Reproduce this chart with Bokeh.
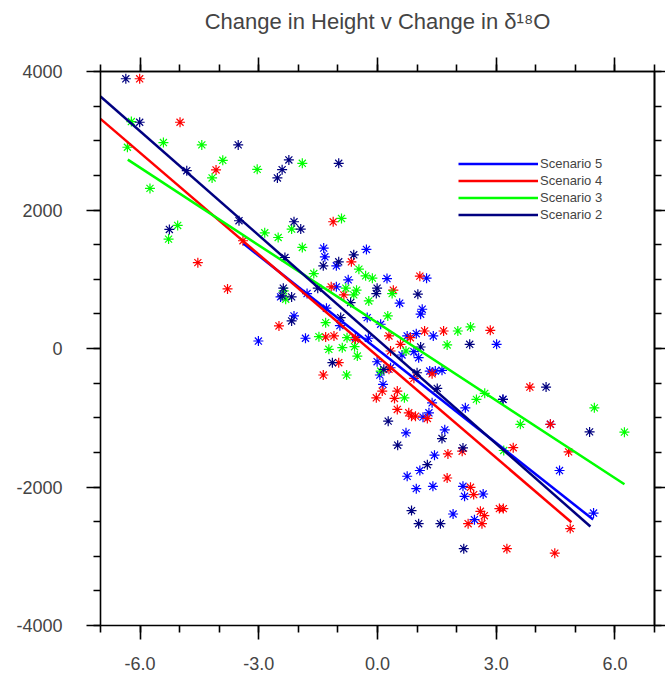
from bokeh.plotting import figure
from bokeh.models import (FixedTicker, NumeralTickFormatter, LinearAxis, Legend,
                          LegendItem, Range1d)
from bokeh.embed import file_html
from bokeh.resources import INLINE

# ---------------- data ----------------
s5_x = [-1.36, -1.33, -1.04, -0.74, 0.24, 1.24, -1.04, 0.56, 1.13, 1.09, -2.45, -1.78,
        -1.29, -2.11, -1.82, -3.01, -0.56, -0.23, -0.26, 0.08, 0.75, 0.98, 1.41, 0.92,
        1.04, 0.62, -0.01, 0.33, 1.32, 1.46, 1.63, 0.06, 0.14, 1.30, 3.17, 4.37, 4.60,
        5.46, 2.45, 1.91, 2.16, 2.20, 2.67, 1.40, 0.98, 0.75, 1.07, 1.44, 1.70, 0.72,
        1.15, 1.38, 2.22, 3.01, -0.28, -0.95]
s5_y = [1450, 1324, 1194, 991, 1010, 1016, 890, 654, 567, 495, 745, 793,
        582, 470, 148, 108, 156, 148, 446, 350, 181, 214, 181, -46,
        -133, -94, -191, -278, -326, -326, -315, -383, -518, -929, -735, -1095, -1762,
        -2376, -2472, -2390, -1990, -2134, -2101, -1990, -2024, -1845, -1762, -1541, -1175, -1218,
        -991, -784, -857, 61, 1430, 330]

s4_x = [-6.01, -4.99, -4.08, -1.12, -4.54, -3.40, -3.79, -0.66, 1.07, -1.17, -0.85, 0.40,
        -2.49, -1.31, -1.10, -0.56, -0.98, -1.37, 0.29, 1.19, 1.67, 0.58, 0.33, 0.29,
        1.38, 0.92, 0.12, 0.50, -0.03, 0.43, 0.50, 0.79, 0.96, 3.85, 4.37, 3.43, 4.83,
        4.87, 4.48, 3.27, 3.18, 3.08, 2.60, 2.70, 2.64, 2.29, 2.35, 2.43, 1.78, 2.14,
        1.76, 0.86, 1.26, 2.85, 0.83]
s4_y = [3895, 3267, 2578, 1830, 1240, 1556, 861, 1252, 1045, 890, 774, 842,
        326, 166, 181, 133, -205, -383, 181, 253, 253, 61, -36, -301,
        -365, -431, -615, -615, -712, -721, -880, -929, -977, -557, -1095, -1432, -1493,
        -2601, -2955, -2891, -2312, -2312, -2351, -2414, -2530, -2530, -2004, -2110, -1522, -1483,
        -1870, -977, -1010, 263, 156]

s3_x = [-6.22, -5.41, -6.32, -4.44, -3.91, -4.18, -3.04, -1.90, -5.75, -0.91, -5.05, -5.28,
        -2.85, -2.51, -2.17, -1.90, -0.47, -0.30, -0.13, -1.61, -0.80, -0.60, -0.53, -0.22,
        0.37, 0.26, -2.32, -2.37, -1.48, -0.77, -1.23, -0.89, -0.58, -0.51, -0.78, -1.31,
        1.76, 0.72, 0.08, 0.68, 2.71, 2.50, 5.48, 6.24, 3.61, 3.19, 2.03, 2.35]
s3_y = [3277, 2974, 2906, 2940, 2718, 2463, 2587, 2674, 2312, 1878, 1777, 1580,
        1671, 1603, 1725, 1459, 1146, 1049, 1016, 1082, 871, 774, 842, 687,
        793, 470, 712, 832, 171, 156, -12, 12, 26, -109, -383, 373,
        51, -36, -326, -712, -648, -735, -857, -1208, -1095, -1473, 253, 311]

s2_x = [-6.36, -6.01, -3.52, -2.24, -2.41, -2.53, -0.98, -4.82, -3.50, -5.26, -2.11, -1.94,
        -0.60, -2.34, -1.37, -0.98, -1.51, -0.68, -0.01, -0.03, 1.02, -2.38, -2.41, -2.17,
        -2.17, -1.14, 1.09, 0.16, 1.00, 1.51, 4.26, 3.17, 5.36, 2.18, 1.59, 1.04, 0.86,
        1.26, 2.16, 1.63, 0.51, 0.27, 2.33, -0.93]
s2_y = [3895, 3267, 2940, 2723, 2583, 2463, 2674, 2568, 1845, 1719, 1830, 1725,
        1353, 1314, 1194, 1252, 871, 663, 871, 793, 784, 871, 760, 745,
        398, -205, 22, -301, -350, -576, -557, -735, -1204, -2891, -2530, -2530, -2341,
        -1678, -1436, -1300, -1396, -1049, 61, 446]

# regression lines (start x, end x, start y, end y)
fit_x = {"Scenario 5": [-3.39, 5.45], "Scenario 4": [-7.0, 4.90],
         "Scenario 3": [-6.31, 6.24], "Scenario 2": [-7.0, 5.38]}
fit_y = {"Scenario 5": [1515, -2470], "Scenario 4": [3316, -2510],
         "Scenario 3": [2727, -1960], "Scenario 2": [3640, -2570]}

names = ["Scenario 5", "Scenario 4", "Scenario 3", "Scenario 2"]
colors = ["#0000FF", "#FF0000", "#00FF00", "#000080"]
xs = [s5_x, s4_x, s3_x, s2_x]
ys = [s5_y, s4_y, s3_y, s2_y]

x_major = [-6, -3, 0, 3, 6]
x_minor = [-7, -6, -5, -4, -3, -2, -1, 0, 1, 2, 3, 4, 5, 6, 7]
y_major = [-4000, -2000, 0, 2000, 4000]
y_minor = list(range(-4000, 4001, 500))

FONT = "Liberation Sans"
TITLE = "Change in Height v Change in δ¹⁸O"

p = figure(frame_width=554, frame_height=554, output_backend="svg", toolbar_location=None,
           x_range=Range1d(-7, 7), y_range=Range1d(-4000, 4000),
           x_axis_location=None, y_axis_location=None,
           min_border_left=100, min_border_top=71, min_border_right=11, min_border_bottom=0,
           title=TITLE)
p.grid.visible = False
p.outline_line_color = None
p.background_fill_color = "white"

p.title.text_font = FONT
p.title.text_font_size = "22px"
p.title.text_font_style = "normal"
p.title.align = "center"
p.title.standoff = 8

LW = 1.6

def labelled_axis(ticks, minors, fmt, standoff):
    ax = LinearAxis(ticker=FixedTicker(ticks=ticks, minor_ticks=minors),
                    formatter=NumeralTickFormatter(format=fmt))
    ax.axis_line_width = LW
    ax.major_tick_line_width = LW
    ax.minor_tick_line_width = LW
    ax.major_tick_in = 0
    ax.minor_tick_in = 0
    ax.major_tick_out = 14
    ax.minor_tick_out = 7
    ax.major_label_text_font = FONT
    ax.major_label_text_font_size = "18px"
    ax.major_label_standoff = standoff
    return ax

def bare_axis(tick_positions, length):
    # an unlabelled axis that takes no room: its ticks point outward
    # through a negative "in" length
    ax = LinearAxis(ticker=FixedTicker(ticks=[], minor_ticks=tick_positions))
    ax.axis_line_width = LW
    ax.minor_tick_line_width = LW
    ax.major_tick_in = 0
    ax.major_tick_out = 0
    ax.minor_tick_out = 0
    ax.minor_tick_in = -length
    ax.major_label_standoff = 0
    return ax

def spacer_axis(positions, room):
    # an invisible axis that only keeps room between the frame and the title
    ax = LinearAxis(ticker=FixedTicker(ticks=[], minor_ticks=positions))
    ax.axis_line_color = None
    ax.major_tick_line_color = None
    ax.minor_tick_line_color = None
    ax.major_tick_in = 0
    ax.minor_tick_in = 0
    ax.minor_tick_out = room
    ax.major_tick_out = room
    ax.major_label_standoff = 0
    return ax

p.add_layout(labelled_axis(y_major, y_minor, "0", 24), "left")
p.add_layout(labelled_axis(x_major, x_minor, "0.0", 17), "below")
p.add_layout(bare_axis(y_minor, 7), "right")
p.add_layout(bare_axis(y_major, 11), "right")
p.add_layout(bare_axis(x_minor, 7), "above")
p.add_layout(bare_axis(x_major, 14), "above")
p.add_layout(spacer_axis(x_major, 34), "above")

items = []
for name, c, x, y in zip(names, colors, xs, ys):
    p.scatter(x=x, y=y, marker="asterisk", size=10, line_color=c, line_width=1.2)
for name, c in zip(names, colors):
    r = p.line(x=fit_x[name], y=fit_y[name], line_color=c, line_width=2.5)
    items.append(LegendItem(label=name, renderers=[r]))

legend = Legend(items=items, location=(358, 402), orientation="vertical",
                glyph_width=80, glyph_height=17, label_height=17, spacing=0,
                label_standoff=2, padding=0, margin=0,
                label_text_font=FONT, label_text_font_size="13px",
                border_line_color=None, background_fill_alpha=0)
p.add_layout(legend, "center")

open("out.html", "w").write(file_html(p, INLINE))
